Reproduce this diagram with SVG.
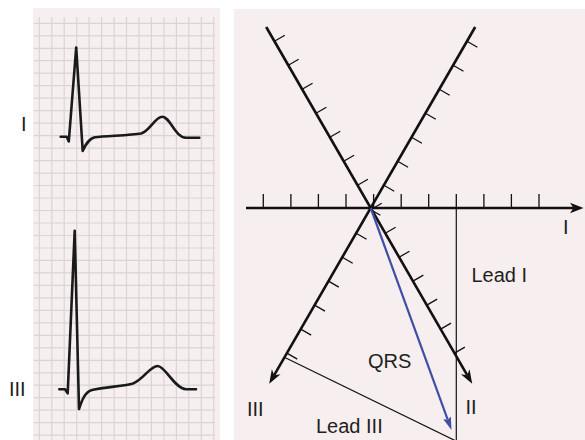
<svg xmlns="http://www.w3.org/2000/svg" width="585" height="440" viewBox="0 0 585 440">
<defs>
<style>
.bg{fill:#f6eeef}
.grid{stroke:#d9d5d5;stroke-width:1.2;fill:none}
.ecg{stroke:#1a1a1a;stroke-width:2.6;fill:none;stroke-linejoin:round;stroke-linecap:round}
.axis{stroke:#111;stroke-width:2.6;fill:none}
.tick{stroke:#111;stroke-width:1.3;fill:none}
.thin{stroke:#111;stroke-width:1.2;fill:none}
.head{fill:#111;stroke:none}
.qrs{stroke:#3f4ea6;stroke-width:2.2;fill:none}
.qrshead{fill:#3f4ea6;stroke:none}
text{font-family:"Liberation Sans",Arial,Helvetica,sans-serif;font-size:20px;fill:#231f20}
</style>
</defs>

<g id="ecg-panel">
<rect class="bg" x="33" y="8" width="187" height="432"/>
<g id="grid" class="grid">
<path d="M39.3 17V440M51.8 17V440M64.2 17V440M76.7 17V440M89.1 17V440M101.6 17V440M114.1 17V440M126.5 17V440M139 17V440M151.4 17V440M163.9 17V440M176.4 17V440M188.8 17V440M201.3 17V440M213.7 17V440"/>
<path d="M34 23.3H215M34 35.8H215M34 48.3H215M34 60.7H215M34 73.2H215M34 85.7H215M34 98.2H215M34 110.7H215M34 123.1H215M34 135.6H215M34 148.1H215M34 160.6H215M34 173.1H215M34 185.5H215M34 198H215M34 210.5H215M34 223H215M34 235.5H215M34 248H215M34 260.4H215M34 272.9H215M34 285.4H215M34 297.9H215M34 310.4H215M34 322.8H215M34 335.3H215M34 347.8H215M34 360.3H215M34 372.8H215M34 385.2H215M34 397.7H215M34 410.2H215M34 422.7H215M34 435.2H215"/>
</g>
<g id="trace-I">
<path class="ecg" d="M60.7,136.7 L66.7,136.8 L68.8,141.5 L76.2,47.5 L82.7,151 C85,146 88,139 95,137.3 C105,135.8 130,135.5 141,133.5 C150,131 155,116.7 162.3,116.7 C170,116.7 175,137.5 186,137.7 L199.3,137.7"/>
<text x="21" y="131">I</text>
</g>
<g id="trace-III">
<path class="ecg" d="M59.3,389.3 L65,389.3 L67.7,393.3 L74.7,230.7 L79,409 C82,400 85,392 92,390 C105,387 125,386 133,383.5 C143,380 150,366 157.7,366 C165,366 175,389 186,389.3 L196,389.3"/>
<text x="9" y="396">III</text>
</g>
</g>

<g id="axis-panel">
<rect class="bg" x="234" y="9" width="351" height="431"/>
</g>

<g id="connectors">
<g id="lead-I-axis">
<path class="axis" d="M246,208 H574"/>
<polygon class="head" points="583.5,208 570,202.7 573.5,208 570,213.3"/>
<path class="tick" d="M263.3 194V208M290.9 194V208M318.4 194V208M346 194V208M373.6 194V208M401.2 194V208M428.7 194V208M456.3 194V208M483.9 194V208M511.4 194V208M539 194V208"/>
</g>
<g id="lead-II-axis">
<path class="axis" d="M266.2,27 L467.2,375.1"/>
<polygon class="head" points="472.2,383.8 469.53,369.18 467.2,375.14 460.87,374.18"/>
<path class="tick" d="M274.45,41.29L284.84,35.29M288.3,65.28L298.69,59.28M302.15,89.27L312.54,83.27M316,113.26L326.39,107.26M329.85,137.25L340.24,131.25M343.7,161.24L354.09,155.24M357.55,185.22L367.94,179.22M371.4,209.21L381.79,203.21M385.25,233.2L395.64,227.2M399.1,257.19L409.49,251.19M412.95,281.18L423.34,275.18M426.8,305.17L437.19,299.17M440.65,329.15L451.04,323.15M454.5,353.14L464.89,347.14"/>
</g>
<g id="lead-III-axis">
<path class="axis" d="M475.2,27 L274.2,375.1"/>
<polygon class="head" points="269.2,383.8 280.53,374.18 274.2,375.14 271.87,369.18"/>
<path class="tick" d="M466.95,41.29L477.34,47.29M453.1,65.28L463.49,71.28M439.25,89.27L449.64,95.27M425.4,113.26L435.79,119.26M411.55,137.25L421.94,143.25M397.7,161.24L408.09,167.24M383.85,185.22L394.24,191.22M370,209.21L380.39,215.21M356.15,233.2L366.54,239.2M342.3,257.19L352.69,263.19M328.45,281.18L338.84,287.18M314.6,305.17L324.99,311.17M300.75,329.15L311.14,335.15M286.9,353.14L297.29,359.14"/>
</g>
<g id="projection-lead-I">
<path class="thin" d="M456.3,208 V440"/>
</g>
<g id="projection-lead-III">
<path class="thin" d="M284.8,357.5 L456,441"/>
</g>
<g id="qrs-vector">
<path class="qrs" d="M370.7,208 L447.7,419.7"/>
<polygon class="qrshead" points="451.5,430 450.81,416.41 447.74,419.66 443.29,419.15"/>
</g>
</g>

<g id="labels">
<text x="563" y="233.5">I</text>
<text x="471.5" y="282.3">Lead I</text>
<text x="368" y="368.3">QRS</text>
<text x="247" y="416">III</text>
<text x="465.5" y="414">II</text>
<text x="316" y="433.3">Lead III</text>
</g>
</svg>
